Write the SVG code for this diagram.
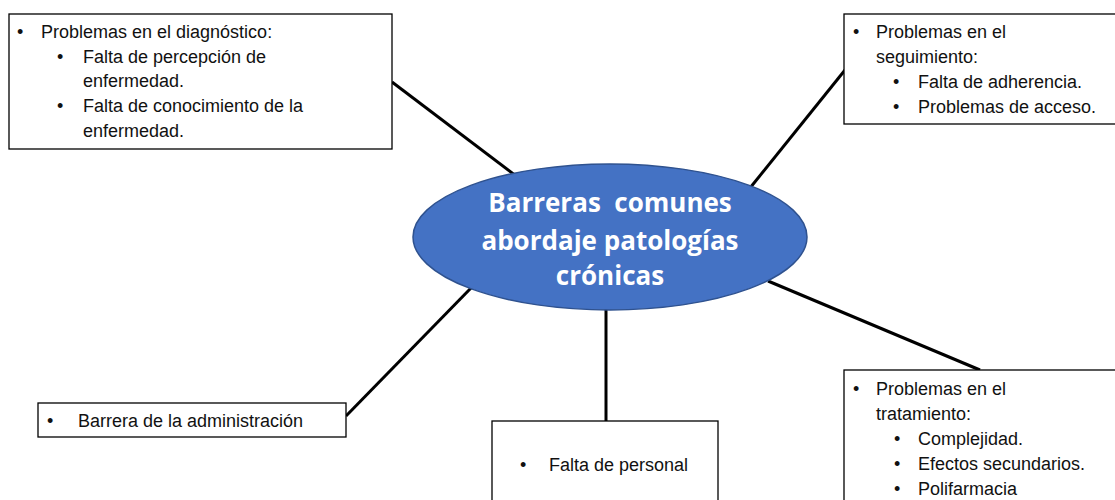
<svg xmlns="http://www.w3.org/2000/svg" width="1115" height="500" viewBox="0 0 1115 500">
<style>
.box{fill:#fff;stroke:#000;stroke-width:1.3}
.t{font-family:"Liberation Sans",Arial,sans-serif;font-size:18px;fill:#111}
.c{font-family:"Open Sans","Liberation Sans",sans-serif;font-weight:bold;font-size:26px;fill:#fff;text-anchor:middle}
.ln{stroke:#000;stroke-width:3;fill:none}
</style>
<rect width="1115" height="500" fill="#fff"/>
<g id="connectors">
<line class="ln" x1="392" y1="82" x2="516" y2="176"/>
<line class="ln" x1="750" y1="188" x2="845" y2="70"/>
<line class="ln" x1="471" y1="288" x2="346" y2="416"/>
<line class="ln" x1="606" y1="308" x2="606" y2="421"/>
<line class="ln" x1="768" y1="281" x2="980" y2="370"/>
</g>
<g id="center">
<ellipse cx="610" cy="237" rx="197" ry="73" fill="#4472C4" stroke="#2F528F" stroke-width="1.5"/>
<text class="c" x="610" y="212" xml:space="preserve">Barreras  comunes</text>
<text class="c" x="610" y="250">abordaje patologías</text>
<text class="c" x="610" y="285">crónicas</text>
</g>
<g id="diagnostico">
<rect class="box" x="9" y="14" width="383" height="135"/>
<text class="t" x="17" y="38">•</text><text class="t" x="41" y="38">Problemas en el diagnóstico:</text>
<text class="t" x="57" y="63">•</text><text class="t" x="83" y="63">Falta de percepción de</text>
<text class="t" x="83" y="87">enfermedad.</text>
<text class="t" x="57" y="112">•</text><text class="t" x="83" y="112">Falta de conocimiento de la</text>
<text class="t" x="83" y="137">enfermedad.</text>
</g>
<g id="seguimiento">
<rect class="box" x="844" y="14" width="275" height="110"/>
<text class="t" x="853" y="38">•</text><text class="t" x="876" y="38">Problemas en el</text>
<text class="t" x="876" y="63">seguimiento:</text>
<text class="t" x="893" y="88">•</text><text class="t" x="918" y="88">Falta de adherencia.</text>
<text class="t" x="893" y="113">•</text><text class="t" x="918" y="113">Problemas de acceso.</text>
</g>
<g id="administracion">
<rect class="box" x="38" y="403" width="308" height="34"/>
<text class="t" x="47" y="427">•</text><text class="t" x="78" y="427">Barrera de la administración</text>
</g>
<g id="personal">
<rect class="box" x="492" y="421" width="226" height="85"/>
<text class="t" x="520" y="471">•</text><text class="t" x="549" y="471">Falta de personal</text>
</g>
<g id="tratamiento">
<rect class="box" x="844" y="370" width="275" height="136"/>
<text class="t" x="853" y="395">•</text><text class="t" x="876" y="395">Problemas en el</text>
<text class="t" x="876" y="420">tratamiento:</text>
<text class="t" x="894" y="445">•</text><text class="t" x="918" y="445">Complejidad.</text>
<text class="t" x="894" y="470">•</text><text class="t" x="918" y="470">Efectos secundarios.</text>
<text class="t" x="894" y="495">•</text><text class="t" x="918" y="495">Polifarmacia</text>
</g>
</svg>
